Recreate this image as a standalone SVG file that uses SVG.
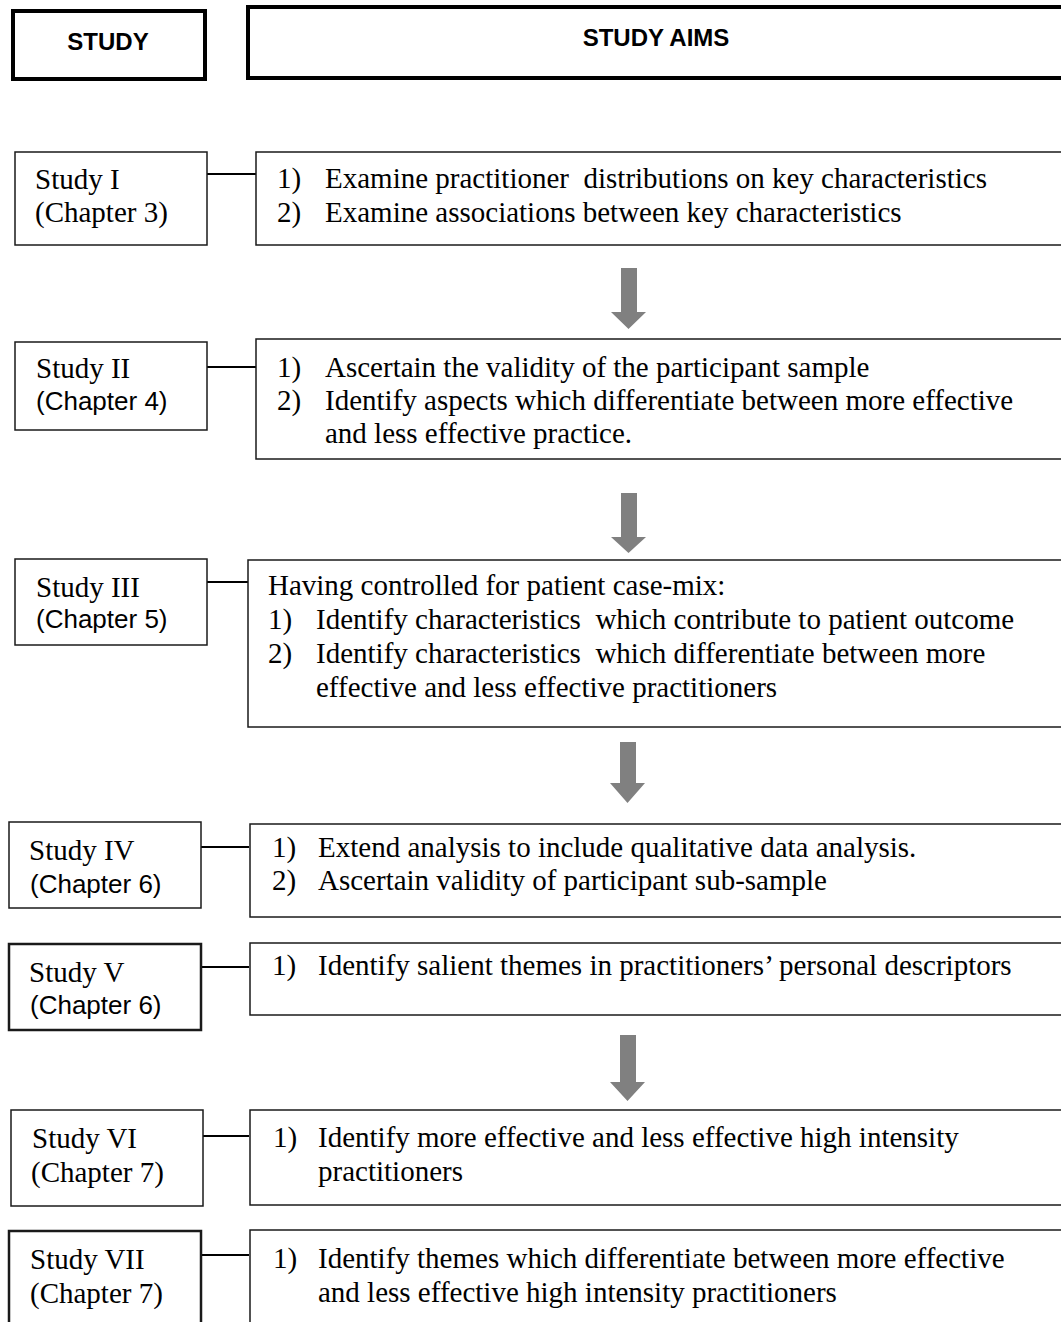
<svg xmlns="http://www.w3.org/2000/svg" width="1061" height="1322" viewBox="0 0 1061 1322">
<style>
.hdr{fill:#fff;stroke:#000;stroke-width:4}
.box{fill:#fff;stroke:#1a1a1a;stroke-width:1.5}
.boxb{fill:#fff;stroke:#1a1a1a;stroke-width:2.5}
.h{font-family:"Liberation Sans",Arial,sans-serif;font-weight:bold;font-size:24px;fill:#000;text-anchor:middle}
.t{font-family:"Liberation Serif","Times New Roman",serif;font-size:29px;fill:#000}
.s{font-family:"Liberation Sans",Arial,sans-serif;font-size:26px;fill:#000}
.c{stroke:#000;stroke-width:2;fill:none}
.a{fill:#808080;stroke:none}
</style>
<rect width="1061" height="1322" fill="#fff"/>
<g id="header-study">
<rect class="hdr" x="13" y="11" width="192" height="68"/>
<text class="h" x="108" y="50">STUDY</text>
</g>
<g id="header-aims">
<rect class="hdr" x="248" y="7" width="830" height="71"/>
<text class="h" x="656" y="46">STUDY AIMS</text>
</g>
<g id="connectors">
<line class="c" x1="207" y1="174" x2="256" y2="174"/>
<line class="c" x1="207" y1="367" x2="256" y2="367"/>
<line class="c" x1="207" y1="582" x2="252" y2="582"/>
<line class="c" x1="201" y1="847" x2="249" y2="847"/>
<line class="c" x1="201" y1="967" x2="249" y2="967"/>
<line class="c" x1="203" y1="1136" x2="249" y2="1136"/>
<line class="c" x1="201" y1="1255" x2="249" y2="1255"/>
<polygon class="a" points="621,268 637,268 637,312 646,312 628.5,329 611,312 621,312"/>
<polygon class="a" points="621,493 637,493 637,537 646,537 628.5,553 611,537 621,537"/>
<polygon class="a" points="620,742 636,742 636,783 645,783 627.5,803 610,783 620,783"/>
<polygon class="a" points="620,1035 636,1035 636,1082 645,1082 627.5,1101 610,1082 620,1082"/>
</g>
<g id="study1">
<rect class="box" x="15" y="152" width="192" height="93"/>
<text class="t" x="35" y="189">Study I</text>
<text class="t" x="35" y="222">(Chapter 3)</text>
</g>
<g id="aims1">
<rect class="box" x="256" y="152" width="820" height="93"/>
<text class="t" x="277" y="188">1)</text>
<text class="t" x="325" y="188" xml:space="preserve">Examine practitioner  distributions on key characteristics</text>
<text class="t" x="277" y="222">2)</text>
<text class="t" x="325" y="222">Examine associations between key characteristics</text>
</g>
<g id="study2">
<rect class="box" x="15" y="342" width="192" height="88"/>
<text class="t" x="36" y="378">Study II</text>
<text class="s" x="36" y="410">(Chapter 4)</text>
</g>
<g id="aims2">
<rect class="box" x="256" y="339" width="820" height="120"/>
<text class="t" x="277" y="377">1)</text>
<text class="t" x="325" y="377">Ascertain the validity of the participant sample</text>
<text class="t" x="277" y="410">2)</text>
<text class="t" x="325" y="410">Identify aspects which differentiate between more effective</text>
<text class="t" x="325" y="443">and less effective practice.</text>
</g>
<g id="study3">
<rect class="box" x="15" y="559" width="192" height="86"/>
<text class="t" x="36" y="597">Study III</text>
<text class="s" x="36" y="628">(Chapter 5)</text>
</g>
<g id="aims3">
<rect class="box" x="248" y="560" width="828" height="167"/>
<text class="t" x="268" y="595">Having controlled for patient case-mix:</text>
<text class="t" x="268" y="629">1)</text>
<text class="t" x="316" y="629" xml:space="preserve">Identify characteristics  which contribute to patient outcome</text>
<text class="t" x="268" y="663">2)</text>
<text class="t" x="316" y="663" xml:space="preserve">Identify characteristics  which differentiate between more</text>
<text class="t" x="316" y="697">effective and less effective practitioners</text>
</g>
<g id="study4">
<rect class="box" x="9" y="822" width="192" height="86"/>
<text class="t" x="29" y="860">Study IV</text>
<text class="s" x="30" y="893">(Chapter 6)</text>
</g>
<g id="aims4">
<rect class="box" x="250" y="824" width="826" height="93"/>
<text class="t" x="272" y="857">1)</text>
<text class="t" x="318" y="857">Extend analysis to include qualitative data analysis.</text>
<text class="t" x="272" y="890">2)</text>
<text class="t" x="318" y="890">Ascertain validity of participant sub-sample</text>
</g>
<g id="study5">
<rect class="boxb" x="9" y="944" width="192" height="86"/>
<text class="t" x="29" y="982">Study V</text>
<text class="s" x="30" y="1014">(Chapter 6)</text>
</g>
<g id="aims5">
<rect class="box" x="250" y="943" width="826" height="72"/>
<text class="t" x="272" y="975">1)</text>
<text class="t" x="318" y="975">Identify salient themes in practitioners’ personal descriptors</text>
</g>
<g id="study6">
<rect class="box" x="11" y="1110" width="192" height="96"/>
<text class="t" x="32" y="1148">Study VI</text>
<text class="t" x="31" y="1182">(Chapter 7)</text>
</g>
<g id="aims6">
<rect class="box" x="250" y="1110" width="826" height="95"/>
<text class="t" x="273" y="1147">1)</text>
<text class="t" x="318" y="1147">Identify more effective and less effective high intensity</text>
<text class="t" x="318" y="1181">practitioners</text>
</g>
<g id="study7">
<rect class="boxb" x="9" y="1231" width="192" height="110"/>
<text class="t" x="30" y="1269">Study VII</text>
<text class="t" x="30" y="1303">(Chapter 7)</text>
</g>
<g id="aims7">
<rect class="box" x="250" y="1230" width="826" height="110"/>
<text class="t" x="273" y="1268">1)</text>
<text class="t" x="318" y="1268">Identify themes which differentiate between more effective</text>
<text class="t" x="318" y="1302">and less effective high intensity practitioners</text>
</g>
</svg>
